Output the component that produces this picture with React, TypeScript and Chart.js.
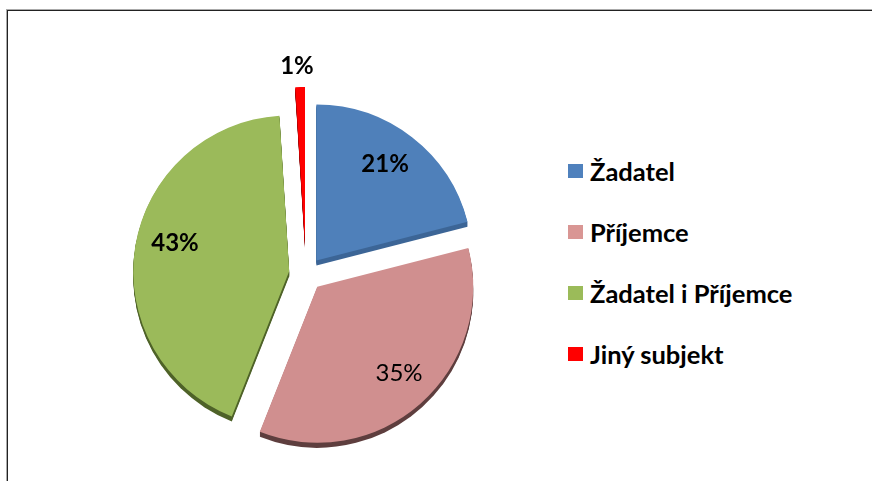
import React, { useEffect, useRef } from "react";
import { Chart, registerables } from "chart.js";

Chart.register(...registerables);

const categories = ["Žadatel", "Příjemce", "Žadatel i Příjemce", "Jiný subjekt"];
const shares = [21, 35, 43, 1];
const valueLabels = ["21%", "35%", "43%", "1%"];
const sliceColors = ["#4F80BA", "#D08F8F", "#9BBA5A", "#FF0000"];
const edgeColors = ["#3C6596", "#5E3E3E", "#4E6228", "#8B0000"];
const legendColors = ["#4F81BD", "#D99694", "#9BBB59", "#FF0000"];
const labelBold = [true, false, true, true];

const FONT = "Lato, 'Open Sans', sans-serif";

// style-only: explosion distance (px) per slice, label placement tweaks
const EXPLODE = [17, 17, 17, 31];
const LABEL_ANGLE_SHIFT = [-2.4, -2.1, 4.9, -0.8];
const LABEL_DIST = [0.76, 0.762, 0.754, 0];
const OUTSIDE_GAP = 21;
const DEPTH = 5;

// move every arc element outwards along its mid angle (exploded pie)
const explodePlugin = {
  id: "explode",
  afterDatasetUpdate(chart: any, args: any) {
    const meta = args.meta || chart.getDatasetMeta(args.index);
    meta.data.forEach((arc: any, i: number) => {
      const mid = (arc.startAngle + arc.endAngle) / 2;
      arc.x = arc.x + Math.cos(mid) * EXPLODE[i];
      arc.y = arc.y + Math.sin(mid) * EXPLODE[i];
    });
  },
};

const depthPlugin = {
  id: "depth",
  beforeDatasetsDraw(chart: any) {
    const ctx = chart.ctx;
    const meta = chart.getDatasetMeta(0);
    meta.data.forEach((arc: any, i: number) => {
      const p = arc.getProps(["x", "y", "startAngle", "endAngle", "outerRadius"], true);
      ctx.save();
      ctx.fillStyle = edgeColors[i];
      for (let d = 1; d <= DEPTH; d++) {
        ctx.beginPath();
        ctx.moveTo(p.x, p.y + d);
        ctx.arc(p.x, p.y + d, p.outerRadius, p.startAngle, p.endAngle);
        ctx.closePath();
        ctx.fill();
      }
      ctx.restore();
    });
  },
};

const labelPlugin = {
  id: "sliceLabels",
  afterDatasetsDraw(chart: any) {
    const ctx = chart.ctx;
    const meta = chart.getDatasetMeta(0);
    meta.data.forEach((arc: any, i: number) => {
      const p = arc.getProps(["x", "y", "startAngle", "endAngle", "outerRadius"], true);
      const mid = (p.startAngle + p.endAngle) / 2;
      const small = shares[i] < 5;
      const dist = small ? p.outerRadius + OUTSIDE_GAP : p.outerRadius * LABEL_DIST[i];
      const ang = mid + (LABEL_ANGLE_SHIFT[i] * Math.PI) / 180;
      const lx = p.x + Math.cos(ang) * dist;
      const ly = p.y + Math.sin(ang) * dist;
      ctx.save();
      ctx.font = `${labelBold[i] ? "bold " : ""}24px ${FONT}`;
      ctx.fillStyle = "#000";
      ctx.textAlign = "center";
      ctx.textBaseline = "middle";
      ctx.fillText(valueLabels[i], lx, ly);
      ctx.restore();
    });
  },
};

export default function App() {
  const ref = useRef<HTMLCanvasElement | null>(null);

  useEffect(() => {
    document.body.style.margin = "0";
    if (!ref.current) return;
    const chart = new Chart(ref.current, {
      type: "pie",
      data: {
        labels: categories,
        datasets: [
          {
            data: shares,
            backgroundColor: sliceColors,
            borderWidth: 0,
          },
        ],
      },
      options: {
        responsive: false,
        animation: false,
        radius: 156,
        layout: { padding: { left: 150, top: 108, right: 58, bottom: 41 } },
        plugins: {
          legend: { display: false },
          tooltip: { enabled: false },
        },
      } as any,
      plugins: [explodePlugin, depthPlugin, labelPlugin],
    });
    return () => chart.destroy();
  }, []);

  return (
    <div style={{ position: "relative", width: 872, height: 481, background: "#fff", overflow: "hidden" }}>
      <div
        style={{
          position: "absolute",
          left: 7,
          top: 10,
          width: 880,
          height: 490,
          borderTop: "1px solid #222",
          borderLeft: "1px solid #222",
          boxShadow: "-1px -1px 0 #aaa",
        }}
      />
      <canvas
        ref={ref}
        width={520}
        height={481}
        style={{ position: "absolute", left: 0, top: 0, width: 520, height: 481 }}
      />
      <div style={{ position: "absolute", left: 568, top: 0 }}>
        {categories.map((c, i) => (
          <div
            key={c}
            style={{
              position: "absolute",
              top: 157 + i * 61,
              left: 0,
              display: "flex",
              alignItems: "center",
              whiteSpace: "nowrap",
              font: `bold 25.5px ${FONT}`,
              color: "#000",
              height: 28,
            }}
          >
            <span
              style={{
                display: "inline-block",
                width: 15,
                height: 14,
                background: legendColors[i],
                marginRight: 7,
                flex: "none",
              }}
            />
            {c}
          </div>
        ))}
      </div>
    </div>
  );
}
